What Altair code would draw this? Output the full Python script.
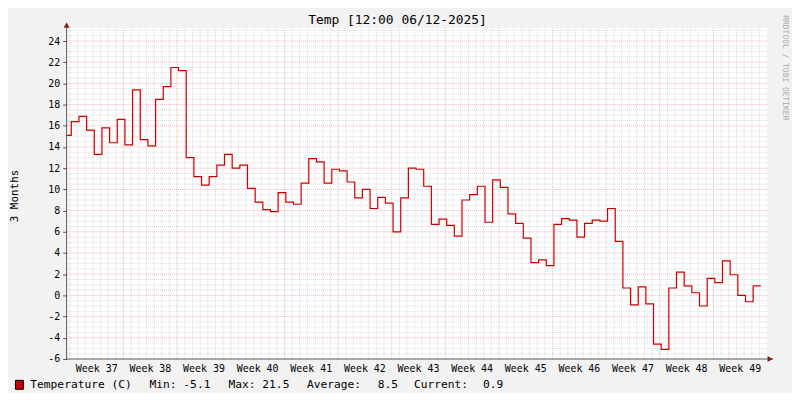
import altair as alt
import pandas as pd

# ---------------- data ----------------
temps = [15.1, 16.4, 16.9, 15.6, 13.3, 15.8, 14.4, 16.6, 14.2, 19.4,
         14.7, 14.1, 18.5, 19.7, 21.5, 21.2, 13.0, 11.2, 10.4, 11.2,
         12.3, 13.3, 12.0, 12.3, 10.1, 8.8, 8.1, 7.9, 9.7, 8.8,
         8.6, 10.6, 12.9, 12.6, 10.6, 11.9, 11.75, 10.7, 9.2, 10.0,
         8.2, 9.25, 8.7, 6.0, 9.2, 12.0, 11.9, 10.3, 6.7, 7.2,
         6.6, 5.6, 9.0, 9.5, 10.3, 6.9, 10.9, 10.2, 7.7, 6.8,
         5.4, 3.1, 3.35, 2.8, 6.7, 7.25, 7.1, 5.5, 6.8, 7.1,
         7.0, 8.2, 5.1, 0.7, -0.9, 0.8, -0.8, -4.6, -5.1, 0.7,
         2.2, 0.9, 0.25, -1.0, 1.6, 1.2, 3.25, 1.95, 0.0, -0.6, 0.9]
# day index of each daily step start (last point closes the final step)
day_start = list(range(-1, len(temps) - 1))
week_numbers = list(range(37, 50))
week_offset = -0.18          # start of week 37 in day units
y_ticks = list(range(-6, 25, 2))
title_text = "Temp [12:00 06/12-2025]"
y_title = "3 Months"
legend_texts = ["Temperature (C)", "Min: -5.1", "Max: 21.5", "Average:", "8.5", "Current:", "0.9"]
credit = "RRDTOOL / TOBI OETIKER"

# ---------------- tables ----------------
line_df = pd.DataFrame({"t": day_start + [day_start[-1] + 1],
                        "v": temps + [temps[-1]]})
week_starts = [week_offset + 7 * i for i in range(len(week_numbers))]
week_df = pd.DataFrame({"t": week_starts})
week_lbl_df = pd.DataFrame({"t": [w + 3.5 for w in week_starts],
                            "label": [f"Week {n}" for n in week_numbers]})
day_df = pd.DataFrame({"t": [week_offset + k for k in range(0, 91) if k % 7 != 0]})
minor_y = [v / 2 for v in range(-12, 51) if (v / 2) % 2 != 0]
minor_y_df = pd.DataFrame({"v": minor_y})
major_y_df = pd.DataFrame({"v": y_ticks[1:]})
one = pd.DataFrame({"a": [0]})

W, H = 705, 333
xs = alt.Scale(domain=[-0.61, 90.83], nice=False, zero=False)
ys = alt.Scale(domain=[-6, 25.22], nice=False, zero=False)
MONO = "DejaVu Sans Mono"
GRID = "#dadada"
MGRID = "#f2b4b4"
AXIS = "#555555"
ARROW = "#7f1f1f"

y_axis = alt.Axis(values=y_ticks, grid=False, domain=False, tickSize=4,
                  tickColor=AXIS, labelFont=MONO, labelFontSize=10,
                  labelColor="#000000", labelPadding=3, title=None,
                  labelExpr="'' + datum.value")

minor_v = alt.Chart(day_df).mark_rule(color=GRID, strokeWidth=1, strokeDash=[1, 1]).encode(
    x=alt.X("t:Q", scale=xs, axis=None))
minor_h = alt.Chart(minor_y_df).mark_rule(color=GRID, strokeWidth=1, strokeDash=[1, 1]).encode(
    y=alt.Y("v:Q", scale=ys, axis=y_axis))
major_h = alt.Chart(major_y_df).mark_rule(color=MGRID, strokeWidth=1, strokeDash=[1, 1]).encode(
    y=alt.Y("v:Q", scale=ys, axis=y_axis))
major_v = alt.Chart(week_df).mark_rule(color=MGRID, strokeWidth=1, strokeDash=[1, 1]).encode(
    x=alt.X("t:Q", scale=xs, axis=None))

line = alt.Chart(line_df).mark_line(color="#cc0000", strokeWidth=1.2, interpolate="step-after",
                                    clip=True).encode(
    x=alt.X("t:Q", scale=xs, axis=None),
    y=alt.Y("v:Q", scale=ys, axis=y_axis))

y_axis_line = alt.Chart(one).mark_rule(color=AXIS, strokeWidth=1).encode(
    x=alt.value(0), y=alt.value(-5), y2=alt.value(H))
x_axis_line = alt.Chart(one).mark_rule(color=AXIS, strokeWidth=1).encode(
    x=alt.value(0), x2=alt.value(W + 6), y=alt.value(H))
arrow_up = alt.Chart(one).mark_point(shape="triangle-up", filled=True, color=ARROW, size=36,
                                     opacity=1).encode(x=alt.value(0), y=alt.value(-3))
arrow_right = alt.Chart(one).mark_point(shape="triangle-right", filled=True, color=ARROW, size=36,
                                        opacity=1).encode(x=alt.value(W + 3), y=alt.value(H))

week_text = alt.Chart(week_lbl_df).mark_text(font=MONO, fontSize=10, color="#000000",
                                             baseline="middle").encode(
    x=alt.X("t:Q", scale=xs, axis=None), y=alt.value(H + 10), text="label:N")

title = alt.Chart(one).mark_text(text=title_text, font=MONO, fontSize=13, color="#000000",
                                 baseline="middle").encode(x=alt.value(333), y=alt.value(-8))
ytitle = alt.Chart(one).mark_text(text=y_title, font=MONO, fontSize=11, color="#000000",
                                  angle=270, baseline="middle").encode(
    x=alt.value(-52), y=alt.value(169))
credit_t = alt.Chart(one).mark_text(text=credit, font=MONO, fontSize=8, color="#a8a8a8",
                                    angle=90, baseline="middle").encode(
    x=alt.value(723), y=alt.value(40))

legend_x = [30.5, 150.5, 230, 309, 380, 416.5, 486]
legend_layers = []
for txt, px in zip(legend_texts, legend_x):
    legend_layers.append(
        alt.Chart(one).mark_text(text=txt, font=MONO, fontSize=11.3, color="#000000",
                                 align="left", baseline="middle").encode(
            x=alt.value(px - 67), y=alt.value(359)))
swatch = alt.Chart(one).mark_rect(fill="#cc0000", stroke="#000000", strokeWidth=1).encode(
    x=alt.value(15.5 - 67), x2=alt.value(23.5 - 67), y=alt.value(354.5), y2=alt.value(363.5))

chart = alt.layer(
    minor_v, minor_h, major_h, major_v, line, y_axis_line, x_axis_line, arrow_up, arrow_right,
    week_text, title, ytitle, credit_t, swatch, *legend_layers
).properties(
    width=W, height=H,
    padding={"left": 59, "top": 19, "right": 25, "bottom": 33},
    autosize=alt.AutoSizeParams(type="none"),
).configure(background="#f2f2f2").configure_view(fill="#ffffff", stroke=None)

chart.save("out.html", embed_options={"renderer": "svg", "actions": False})
